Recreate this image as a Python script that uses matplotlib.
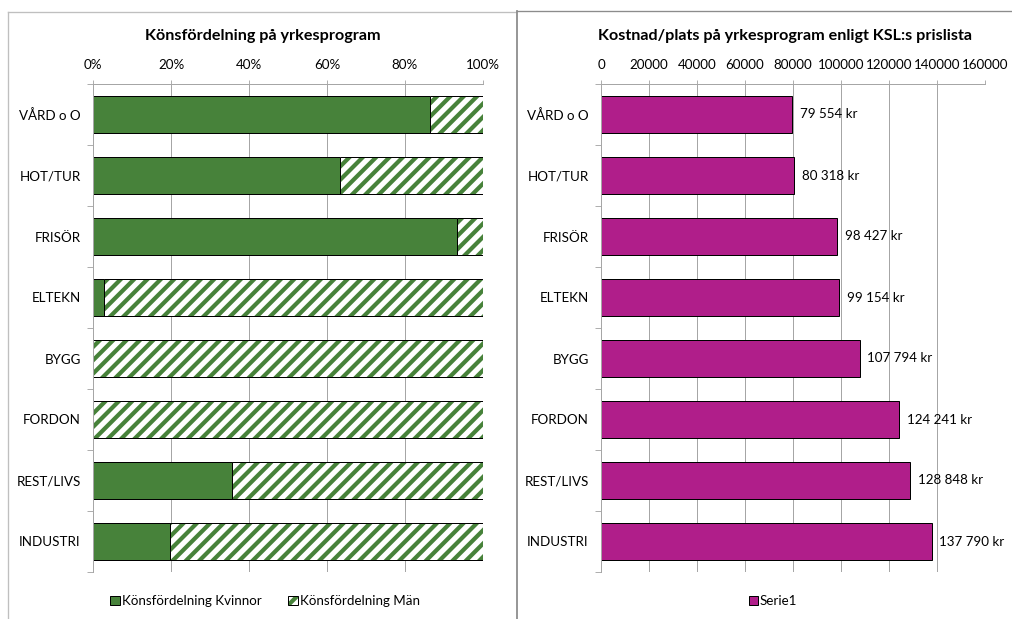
import matplotlib
matplotlib.use("Agg")
import matplotlib.pyplot as plt
from matplotlib.patches import Patch, Rectangle
from matplotlib.lines import Line2D
from matplotlib.legend_handler import HandlerBase

plt.rcParams['font.family'] = ['Lato', 'DejaVu Sans']
plt.rcParams['hatch.linewidth'] = 3.8

categories = ["VÅRD o O", "HOT/TUR", "FRISÖR", "ELTEKN", "BYGG", "FORDON", "REST/LIVS", "INDUSTRI"]
kvinnor = [0.865, 0.633, 0.933, 0.028, 0.0, 0.0, 0.356, 0.197]
man = [1 - v for v in kvinnor]
kostnad = [79554, 80318, 98427, 99154, 107794, 124241, 128848, 137790]

pct_ticks = [0, 0.2, 0.4, 0.6, 0.8, 1.0]
pct_labels = ["0%", "20%", "40%", "60%", "80%", "100%"]
cost_ticks = [0, 20000, 40000, 60000, 80000, 100000, 120000, 140000, 160000]

GREEN = "#47823A"
PURPLE = "#B01E8A"
GRID = "#A6A6A6"
HATCH = "//"
FS = 12

W, H = 1012, 619
DPI = 80
fig = plt.figure(figsize=(W / DPI, H / DPI), dpi=DPI)

def fx(px):
    return px / W

def fy(py):
    return 1 - py / H

# chart borders
fig.add_artist(Line2D([fx(8), fx(8)], [fy(11.5), 0], color="#BFBFBF", lw=1.2))
fig.add_artist(Line2D([fx(8), fx(516)], [fy(11.5), fy(11.5)], color="#BFBFBF", lw=1.2))
fig.add_artist(Line2D([fx(516.5), fx(516.5)], [fy(11), 0], color="#8C8C8C", lw=1.6))
fig.add_artist(Line2D([fx(517), 1], [fy(11), fy(11)], color="#8C8C8C", lw=1.2))

y = list(range(len(categories)))
bh = 0.62

def style_axes(ax):
    ax.set_ylim(len(categories) - 0.5, -0.5)
    ax.xaxis.tick_top()
    ax.tick_params(axis='x', which='major', length=4, width=0.8, color=GRID, pad=8,
                   labelsize=FS, labelcolor="#000000")
    ax.set_yticks(y)
    ax.set_yticklabels(categories)
    ax.tick_params(axis='y', which='major', length=0, pad=11, labelsize=FS)
    ax.set_yticks([i - 0.5 for i in range(len(categories) + 1)], minor=True)
    ax.tick_params(axis='y', which='minor', length=5, width=0.8, color=GRID)
    for s in ['right', 'bottom']:
        ax.spines[s].set_visible(False)
    for s in ['left', 'top']:
        ax.spines[s].set_color(GRID)
        ax.spines[s].set_linewidth(0.9)
    ax.grid(axis='x', color=GRID, lw=0.9)
    ax.set_axisbelow(True)


class HatchHandler(HandlerBase):
    def create_artists(self, legend, orig_handle, xdescent, ydescent, width, height,
                       fontsize, trans):
        r1 = Rectangle((-xdescent, -ydescent), width, height, facecolor="white",
                       edgecolor=GREEN, lw=0, hatch=HATCH, transform=trans)
        r2 = Rectangle((-xdescent, -ydescent), width, height, fill=False,
                       edgecolor="black", lw=0.9, transform=trans)
        return [r1, r2]


# Left chart
ax1 = fig.add_axes([fx(93), fy(572), fx(483 - 93), (572 - 84) / H])
ax1.barh(y, kvinnor, height=bh, color=GREEN, edgecolor="black", lw=0.9)
ax1.barh(y, man, left=kvinnor, height=bh, color="white", edgecolor=GREEN, lw=0, hatch=HATCH)
ax1.barh(y, man, left=kvinnor, height=bh, fill=False, edgecolor="black", lw=0.9)
ax1.set_xlim(0, 1)
ax1.set_xticks(pct_ticks)
ax1.set_xticklabels(pct_labels)
style_axes(ax1)
fig.text(fx(263), fy(36), "Könsfördelning på yrkesprogram", ha="center", va="center",
         fontsize=14.5, fontweight="bold")

h_k = Patch(facecolor=GREEN, edgecolor="black", lw=0.9)
h_m = Patch(facecolor="white")
fig.legend([h_k, h_m], ["Könsfördelning Kvinnor", "Könsfördelning Män"],
           handler_map={h_m: HatchHandler()},
           loc="center", bbox_to_anchor=(fx(265), fy(601)), ncol=2, frameon=False,
           fontsize=FS, handlelength=0.7, handleheight=0.7, handletextpad=0.15,
           columnspacing=2.0)

# Right chart
ax2 = fig.add_axes([fx(601), fy(572), fx(985 - 601), (572 - 84) / H])
ax2.barh(y, kostnad, height=bh, color=PURPLE, edgecolor="black", lw=0.9)
ax2.set_xlim(0, 160000)
ax2.set_xticks(cost_ticks)
ax2.set_xticklabels([str(t) for t in cost_ticks])
style_axes(ax2)
for yi, v in zip(y, kostnad):
    lab = f"{v:,}".replace(",", " ") + " kr"
    ax2.annotate(lab, xy=(v, yi), xytext=(7, 0), textcoords="offset points",
                 ha="left", va="center", fontsize=FS, annotation_clip=False)
fig.text(fx(785), fy(36), "Kostnad/plats på yrkesprogram enligt KSL:s prislista", ha="center",
         va="center", fontsize=14.5, fontweight="bold")
fig.legend([Patch(facecolor=PURPLE, edgecolor="black", lw=0.9)], ["Serie1"],
           loc="center", bbox_to_anchor=(fx(773), fy(601)), frameon=False,
           fontsize=FS, handlelength=0.7, handleheight=0.7, handletextpad=0.15)

fig.savefig("out.png", dpi=DPI)
